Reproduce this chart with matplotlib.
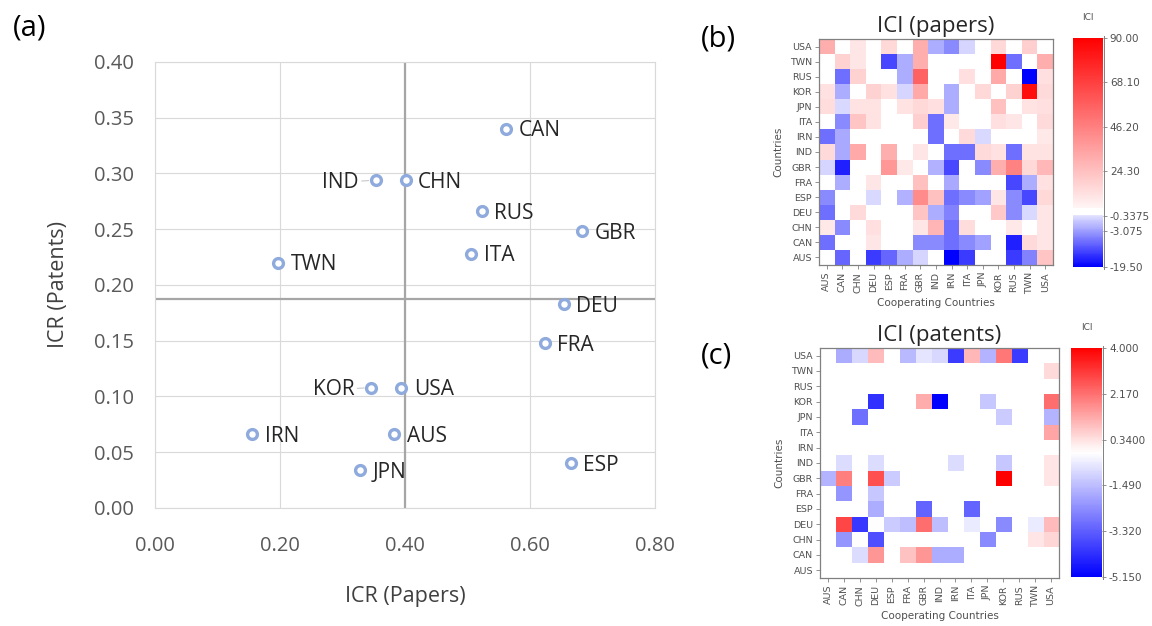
import numpy as np
import matplotlib
matplotlib.use("Agg")
import matplotlib.pyplot as plt
from matplotlib.colors import LinearSegmentedColormap, FuncNorm, Normalize

plt.rcParams['font.family'] = ['Open Sans', 'DejaVu Sans']

# ---- (a) ICR scatter ----
countries = ["CAN", "IND", "CHN", "RUS", "GBR", "ITA", "TWN", "DEU",
             "FRA", "KOR", "USA", "IRN", "AUS", "JPN", "ESP"]
icr_papers = [0.562, 0.353, 0.401, 0.523, 0.684, 0.506, 0.197, 0.654,
              0.624, 0.346, 0.394, 0.156, 0.383, 0.328, 0.665]
icr_patents = [0.340, 0.294, 0.294, 0.266, 0.248, 0.228, 0.220, 0.183,
               0.148, 0.108, 0.108, 0.066, 0.066, 0.034, 0.040]
left_labels = ["IND", "KOR"]
ref_x = 0.40
ref_y = 0.1875

# ---- (b), (c) ICI heatmaps ----
rows = ["USA", "TWN", "RUS", "KOR", "JPN", "ITA", "IRN", "IND",
        "GBR", "FRA", "ESP", "DEU", "CHN", "CAN", "AUS"]
cols = ["AUS", "CAN", "CHN", "DEU", "ESP", "FRA", "GBR", "IND",
        "IRN", "ITA", "JPN", "KOR", "RUS", "TWN", "USA"]

ici_papers = [
    [30, 0, 8, 0, 14, 0, 30, -2.4, -5, -0.7, 0, 14, 0, 18, 0],
    [0, 16, 8, 0, -12, -2.4, 30, 0, 0, 0, 0, 90, -8, 0, 30],
    [0, -8, 16, 0, 0, -2.4, 56, 0, 0, 11, 0, 32, 0, -19.5, 11],
    [10, -2.4, 0, 16, 10, -0.8, 32, 0, -2.4, 0, 14, 0, 16, 85, 13],
    [12, -0.6, 9, 9, 0, 9, 14, 11, -2.4, 0, 0, 24, 0, 9, 11],
    [0, -5, 22, 9, 0, 0, 18, -8, 7, 0, 0, 11, 8, 0, 13],
    [-8, -2.6, 0, 0, 0, 0, 0, -8, 0, 13, -0.6, 0, 0, 0, 7],
    [13, -2.6, 32, 0, 30, 0, 8, 0, -8, -8, 13, 10, -8, 9, 9],
    [-0.7, -16, 0, 0, 38, 7, 0, -2.2, -12, 0, -5, 30, 45, 14, 27],
    [0, -2.4, 0, 8, 0, 0, 24, 0, -2.6, 0, 0, 0, -12, -2.4, 10],
    [-5, 0, 0, -0.6, 0, -2.2, 42, 24, -8, -5, -2.8, 8, -5, -12, 14],
    [-8, 0, 13, 0, 0, 0, 22, -2.4, -6, 0, 0, 20, -5, -0.6, 8],
    [7, -5, 0, 11, 0, 0, 8, 28, -8, 12, 0, 0, 7, 0, 8],
    [-8, 0, 0, 8, 0, 0, -5, -5, -8, -5, -2.8, 0, -16, 13, 8],
    [0, -8.5, 0, -13, -8.5, -2.4, -0.7, 0, -19.5, -13, 0, 0, -13, -6, 22],
]

N = np.nan
ici_patents = [
    [N, -1.8, -0.95, 0.95, N, -1.55, -0.7, -0.95, -4.0, 1.0, -1.65, 2.05, -4.0, N, N],
    [N, N, N, N, N, N, N, N, N, N, N, N, N, N, 0.45],
    [N, N, N, N, N, N, N, N, N, N, N, N, N, N, N],
    [N, N, N, -4.15, N, N, 1.2, -5.15, N, N, -1.28, N, N, N, 2.2],
    [N, N, -3.0, N, N, N, N, N, N, N, N, -1.2, N, N, -1.65],
    [N, N, N, N, N, N, N, N, N, N, N, N, N, N, 1.3],
    [N, N, N, N, N, N, N, N, N, N, N, N, N, N, N],
    [N, -0.87, N, -0.87, N, N, N, N, -0.87, N, N, -1.28, N, N, 0.25],
    [-1.65, 1.9, N, 2.7, -1.2, N, N, N, N, N, N, 4.0, N, N, 0.25],
    [N, -2.25, N, -1.28, N, N, N, N, N, N, N, N, N, N, N],
    [N, N, N, -1.76, N, N, -3.2, N, N, -3.2, N, N, N, N, N],
    [N, 2.85, -4.05, -0.2, -1.2, -1.45, 2.2, -1.45, N, -0.6, N, -2.44, N, -0.6, 0.95],
    [N, -2.25, -0.2, -3.6, N, N, N, N, N, N, -2.44, N, N, 0.25, 0.5],
    [N, N, -0.87, 1.56, N, 0.85, 1.56, -1.76, -1.76, N, N, N, N, N, N],
    [N, N, N, N, N, N, N, N, N, N, N, N, N, N, N],
]

# colour legend anchors (value -> position on the bar)
b_vals = [-19.5, -3.075, -0.3375, 0, 24.3, 90]
b_pos = [0, 0.157, 0.223, 0.245, 0.419, 1.0]
b_ticks = [90, 68.1, 46.2, 24.3, -0.3375, -3.075, -19.5]
b_ticklabels = ["90.00", "68.10", "46.20", "24.30", "-0.3375", "-3.075", "-19.50"]
c_ticks = [4.0, 2.17, 0.34, -1.49, -3.32, -5.15]
c_ticklabels = ["4.000", "2.170", "0.3400", "-1.490", "-3.320", "-5.150"]

cmap_b = LinearSegmentedColormap.from_list("ici_b", [
    (0, (0, 0, 1)), (0.223, (0.88, 0.88, 1)), (0.227, (1, 1, 1)),
    (0.256, (1, 1, 1)), (0.258, (1, 0.96, 0.96)), (1, (1, 0, 0))])
norm_b = FuncNorm((lambda v: np.interp(v, b_vals, b_pos),
                   lambda p: np.interp(p, b_pos, b_vals)), vmin=-19.5, vmax=90)

cmap_c = LinearSegmentedColormap.from_list("ici_c", [
    (0, (0, 0, 1)), (0.508, (0.94, 0.94, 1)), (0.541, (1, 1, 1)),
    (0.574, (1, 0.94, 0.94)), (1, (1, 0, 0))])
norm_c = Normalize(vmin=-5.15, vmax=4.0)

small_font = ['DejaVu Sans']


def draw_scatter(fig):
    ax = fig.add_axes([0.1345, 0.1885, 0.434, 0.7125])
    ax.set_xlim(0, 0.8)
    ax.set_ylim(0, 0.4)
    xt = np.arange(0, 0.81, 0.2)
    yt = np.arange(0, 0.401, 0.05)
    ax.set_xticks(xt)
    ax.set_xticklabels(["%.2f" % v for v in xt])
    ax.set_yticks(yt)
    ax.set_yticklabels(["%.2f" % v for v in yt])
    ax.tick_params(axis='both', length=0, labelsize=14.5, colors='#595959')
    ax.tick_params(axis='x', pad=20)
    ax.tick_params(axis='y', pad=15)
    ax.grid(True, color='#d9d9d9', lw=0.8)
    ax.set_axisbelow(True)
    for s in ax.spines.values():
        s.set_color('#d9d9d9')
        s.set_linewidth(0.8)
    ax.axvline(ref_x, color='#a6a6a6', lw=1.6, zorder=2)
    ax.axhline(ref_y, color='#a6a6a6', lw=1.6, zorder=2)
    ax.scatter(icr_papers, icr_patents, s=50, facecolors='white',
               edgecolors='#8faadc', linewidths=2.4, zorder=3)
    for name, x, y in zip(countries, icr_papers, icr_patents):
        if name in left_labels:
            ax.annotate(name, (x, y), xytext=(-12, -1.5), textcoords='offset points',
                        ha='right', va='center', fontsize=15, color='#262626',
                        arrowprops=dict(arrowstyle='-', color='#c8c8c8', lw=0.8,
                                        shrinkA=0, shrinkB=5))
        else:
            ax.annotate(name, (x, y), xytext=(9, -1.5), textcoords='offset points',
                        ha='left', va='center', fontsize=15, color='#262626')
    ax.set_xlabel("ICR (Papers)", fontsize=15.5, color='#404040', labelpad=22)
    ax.set_ylabel("ICR (Patents)", fontsize=15.5, color='#404040', labelpad=18)


def draw_heatmap(fig, rect, crect, data, cmap, norm, title, ticks, ticklabels, ylabel_y):
    ax = fig.add_axes(rect)
    arr = np.ma.masked_invalid(np.array(data, dtype=float))
    ax.imshow(arr, cmap=cmap, norm=norm, aspect='auto', interpolation='nearest')
    ax.set_facecolor('white')
    ax.set_xticks(range(len(cols)))
    ax.set_xticklabels(cols, rotation=90, family=small_font)
    ax.set_yticks(range(len(rows)))
    ax.set_yticklabels(rows, family=small_font)
    ax.tick_params(axis='both', length=3, width=0.6, color='#808080',
                   labelsize=6.8, labelcolor='#505050', pad=2)
    for s in ax.spines.values():
        s.set_color('#808080')
        s.set_linewidth(0.9)
    ax.set_xlabel("Cooperating Countries", fontsize=7.5, color='#505050',
                  family=small_font, labelpad=3)
    ax.set_ylabel("Countries", fontsize=7.5, color='#505050',
                  family=small_font, labelpad=5)
    ax.set_title(title, fontsize=16, color='#262626', pad=5)

    cax = fig.add_axes(crect)
    sm = plt.cm.ScalarMappable(norm=norm, cmap=cmap)
    cb = fig.colorbar(sm, cax=cax, ticks=ticks)
    cb.ax.set_yticklabels(ticklabels, family=small_font)
    cb.outline.set_visible(False)
    cax.tick_params(length=3, width=0.6, color='#808080', labelsize=7.5,
                    labelcolor='#505050', pad=2)
    cax.plot([1.02, 1.02], [-0.01, 1.01], transform=cax.transAxes,
             color='#808080', lw=0.7, clip_on=False)
    fig.text(crect[0] + crect[2] / 2, ylabel_y, "ICI", fontsize=6.5,
             color='#505050', ha='center', va='center', family=small_font)
    return ax


def main():
    fig = plt.figure(figsize=(11.52, 6.26), dpi=100)
    draw_scatter(fig)
    draw_heatmap(fig, [0.711, 0.5767, 0.2031, 0.361], [0.9314, 0.5735, 0.026, 0.3658],
                 ici_papers, cmap_b, norm_b, "ICI (papers)", b_ticks, b_ticklabels,
                 1 - 17 / 626)
    draw_heatmap(fig, [0.7118, 0.0767, 0.2075, 0.3674], [0.9297, 0.0783, 0.0269, 0.3658],
                 ici_patents, cmap_c, norm_c, "ICI (patents)", c_ticks, c_ticklabels,
                 1 - 328 / 626)
    fig.text(0.011, 0.955, "(a)", fontsize=21, color='#000000', va='center')
    fig.text(0.608, 0.938, "(b)", fontsize=21, color='#000000', va='center')
    fig.text(0.608, 0.432, "(c)", fontsize=21, color='#000000', va='center')
    fig.savefig("out.png", dpi=100)


if __name__ == "__main__":
    main()
